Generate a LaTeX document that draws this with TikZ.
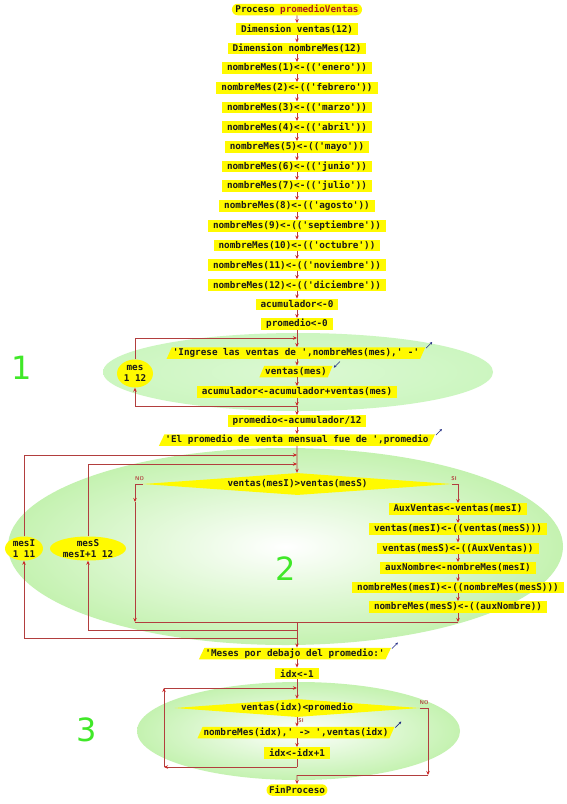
\documentclass[tikz,border=0pt]{standalone}
\usepackage{fontspec}
\setmonofont{DejaVu Sans Mono}
\newfontfamily\numfont{DejaVu Sans}
\usetikzlibrary{shapes.geometric,shapes.misc,arrows.meta,calc}
\definecolor{boxyel}{RGB}{255,250,0}
\definecolor{linered}{RGB}{178,62,62}
\definecolor{arrred}{RGB}{205,40,40}
\definecolor{ellgreen}{RGB}{204,246,192}
\definecolor{ellgreenb}{RGB}{196,242,176}
\definecolor{numgreen}{RGB}{64,232,40}
\definecolor{marknavy}{RGB}{30,40,130}
\definecolor{titlered}{RGB}{170,30,30}
\definecolor{txt}{RGB}{25,25,25}
\begin{document}
\begin{tikzpicture}[x=1pt,y=-1pt,
  font=\ttfamily\bfseries\fontsize{9.3}{11}\selectfont,
  base/.style={fill=boxyel, text=txt, inner sep=0pt, inner xsep=5pt, minimum height=11.5pt},
  proc/.style={base, rectangle},
  io/.style={base, trapezium, trapezium left angle=60, trapezium right angle=120, trapezium stretches body=true, inner xsep=1pt},
  dec/.style={base, diamond, aspect=14, inner xsep=0pt},
  term/.style={base, rounded rectangle, inner xsep=1pt},
  loopvar/.style={fill=boxyel, text=txt, ellipse, inner sep=-3pt, align=center},
  flow/.style={draw=linered, line width=0.7pt, -{Stealth[length=4pt,width=3.5pt,color=arrred]}},
  plain/.style={draw=linered, line width=0.7pt},
  lbl/.style={font=\sffamily\bfseries\fontsize{5.5}{6}\selectfont, text=linered, inner sep=0pt},
  numstyle/.style={font=\numfont\fontsize{32}{32}\selectfont, text=numgreen, inner sep=0pt},
  outmark/.style={draw=marknavy, line width=0.6pt, -{Stealth[length=2.5pt,width=2.5pt]}}
]
\useasboundingbox (0,0) rectangle (566,804);
\fill[white] (0,0) rectangle (566,804);

% background ellipses
\shade[inner color=ellgreen!70, outer color=ellgreen] (298,372) ellipse (195 and 39);
\shade[inner color=white, outer color=ellgreenb] (285.5,546.5) ellipse (277.5 and 98.5);
\shade[inner color=white, outer color=ellgreenb] (298.5,731) ellipse (161.5 and 49);

% numbers
\node[numstyle] (num1) at (22,368) {1};
\node[numstyle] (num2) at (286,569) {2};
\node[numstyle] (num3) at (87,730) {3};

% main chain
\node[term] (p0) at (297,9.5) {Proceso \textcolor{titlered}{promedioVentas}};
\node[proc] (dv) at (297,29) {Dimension ventas(12)};
\node[proc] (dn) at (297,48.5) {Dimension nombreMes(12)};
\node[proc] (n1) at (297,68) {nombreMes(1)<-(('enero'))};
\node[proc] (n2) at (297,88) {nombreMes(2)<-(('febrero'))};
\node[proc] (n3) at (297,107.5) {nombreMes(3)<-(('marzo'))};
\node[proc] (n4) at (297,127) {nombreMes(4)<-(('abril'))};
\node[proc] (n5) at (297,147) {nombreMes(5)<-(('mayo'))};
\node[proc] (n6) at (297,166.5) {nombreMes(6)<-(('junio'))};
\node[proc] (n7) at (297,186) {nombreMes(7)<-(('julio'))};
\node[proc] (n8) at (297,206) {nombreMes(8)<-(('agosto'))};
\node[proc] (n9) at (297,226) {nombreMes(9)<-(('septiembre'))};
\node[proc] (n10) at (297,245.5) {nombreMes(10)<-(('octubre'))};
\node[proc] (n11) at (297,265) {nombreMes(11)<-(('noviembre'))};
\node[proc] (n12) at (297,285) {nombreMes(12)<-(('diciembre'))};
\node[proc] (acu) at (297,304.5) {acumulador<-0};
\node[proc] (pr0) at (297,324) {promedio<-0};

\foreach \a/\b in {p0/dv,dv/dn,dn/n1,n1/n2,n2/n3,n3/n4,n4/n5,n5/n6,n6/n7,n7/n8,n8/n9,n9/n10,n10/n11,n11/n12,n12/acu,acu/pr0}
  \draw[flow] (\a) -- (\b);

% loop 1
\node[io] (ingr) at (296,353) {'Ingrese las ventas de ',nombreMes(mes),' -'};
\node[io] (vmes) at (296,371.5) {ventas(mes)};
\node[proc] (acum) at (297,392) {acumulador<-acumulador+ventas(mes)};
\node[loopvar, minimum width=36pt, minimum height=28pt] (mes) at (135,373.5) {mes\\1 12};
\coordinate (j1t) at (297,338);
\coordinate (j1b) at (297,406);
\draw[flow] (pr0) -- (pr0 |- ingr.north);
\draw[flow] (mes.north) |- (j1t);
\draw[flow] (ingr.south -| acum) -- (acum |- vmes.north);
\draw[flow] (vmes.south -| acum) -- (acum);
\draw[flow] (acum) -- (j1b);
\draw[flow] (j1b) -| (mes.south);

\node[proc] (pr12) at (297,421) {promedio<-acumulador/12};
\node[io] (elp) at (297,440) {'El promedio de venta mensual fue de ',promedio};
\draw[flow] (j1b) -- (pr12);
\draw[flow] (pr12) -- (elp);

% loop 2
\node[loopvar, minimum width=38pt, minimum height=24pt] (mesI) at (24,548.5) {mesI\\1 11};
\node[loopvar, minimum width=76pt, minimum height=24pt] (mesS) at (88,548.5) {mesS\\mesI+1 12};
\node[dec, minimum width=309pt, minimum height=22pt] (dec2) at (297.5,484) {ventas(mesI)>ventas(mesS)};
\coordinate (j2a) at (297,455);
\coordinate (j2b) at (297,464);
\draw[flow] (elp) -- (elp |- dec2.north);
\draw[flow] (mesI.north) |- (j2a);
\draw[flow] (mesS.north) |- (j2b);

\node[proc] (aux1) at (458,509) {AuxVentas<-ventas(mesI)};
\node[proc] (aux2) at (458,529) {ventas(mesI)<-((ventas(mesS)))};
\node[proc] (aux3) at (458,548.5) {ventas(mesS)<-((AuxVentas))};
\node[proc] (aux4) at (458,568) {auxNombre<-nombreMes(mesI)};
\node[proc] (aux5) at (458,587.5) {nombreMes(mesI)<-((nombreMes(mesS)))};
\node[proc] (aux6) at (458,607) {nombreMes(mesS)<-((auxNombre))};

\coordinate (no2a) at (135,484);
\coordinate (no2b) at (135,502);
\coordinate (no2c) at (135,622);
\coordinate (si2a) at (458,484);
\coordinate (si2c) at (458,622);
\draw[plain] (dec2.west) -- (no2a);
\draw[flow] (no2a) -- (no2b);
\draw[flow] (no2b) -- (no2c);
\draw[plain] (dec2.east) -- (si2a);
\draw[flow] (si2a) -- (aux1);
\foreach \a/\b in {aux1/aux2,aux2/aux3,aux3/aux4,aux4/aux5,aux5/aux6}
  \draw[flow] (\a) -- (\b);
\draw[flow] (aux6) -- (si2c);
\draw[plain] (no2c) -- (si2c);
\node[lbl] (no2) at (139.5,478.5) {NO};
\node[lbl] (si2) at (454,478.5) {SI};

\coordinate (j2c) at (297,622);
\coordinate (j2d) at (297,630);
\coordinate (j2e) at (297,638.5);
\draw[flow] (j2d) -| (mesS.south);
\draw[flow] (j2e) -| (mesI.south);

% after loop 2
\node[io] (meses) at (295,653.5) {'Meses por debajo del promedio:'};
\node[proc] (idx1) at (297,673.5) {idx<-1};
\draw[flow] (j2c) -- (j2c |- meses.north);
\draw[flow] (meses.south -| idx1) -- (idx1);

% loop 3
\node[dec, minimum width=245pt, minimum height=18pt] (dec3) at (297,708) {ventas(idx)<promedio};
\node[io] (nmi) at (296,732.5) {nombreMes(idx),' -> ',ventas(idx)};
\node[proc] (inc) at (297,753) {idx<-idx+1};
\node[term] (fin) at (297,790) {FinProceso};
\draw[flow] (idx1) -- (dec3);
\draw[flow] (dec3) -- (dec3 |- nmi.north);
\draw[flow] (nmi.south -| inc) -- (inc);
\node[lbl] (si3) at (301,720.5) {SI};
\node[lbl] (no3) at (424,703) {NO};

\coordinate (j3b) at (297,767);
\coordinate (c3bl) at (164,767);
\coordinate (c3tl) at (164,688);
\coordinate (j3t) at (297,688);
\draw[plain] (inc) -- (j3b);
\draw[flow] (j3b) -- (c3bl);
\draw[flow] (c3bl) -- (c3tl);
\draw[flow] (c3tl) -- (j3t);

\coordinate (no3a) at (428,708);
\coordinate (no3b) at (428,775);
\coordinate (j3f) at (297,775);
\draw[plain] (dec3.east) -- (no3a);
\draw[flow] (no3a) -- (no3b);
\draw[plain] (no3b) -- (j3f);
\draw[flow] (j3f) -- (fin);

% output / input marks
\draw[outmark] ($(ingr.top right corner)+(0.5,1)$) -- ++(6,-6);
\draw[outmark] ($(vmes.top right corner)+(7,-4)$) -- ++(-6,6);
\draw[outmark] ($(elp.top right corner)+(0.5,1)$) -- ++(6,-6);
\draw[outmark] ($(meses.top right corner)+(0.5,1)$) -- ++(6,-6);
\draw[outmark] ($(nmi.top right corner)+(0.5,1)$) -- ++(6,-6);
\end{tikzpicture}
\end{document}
